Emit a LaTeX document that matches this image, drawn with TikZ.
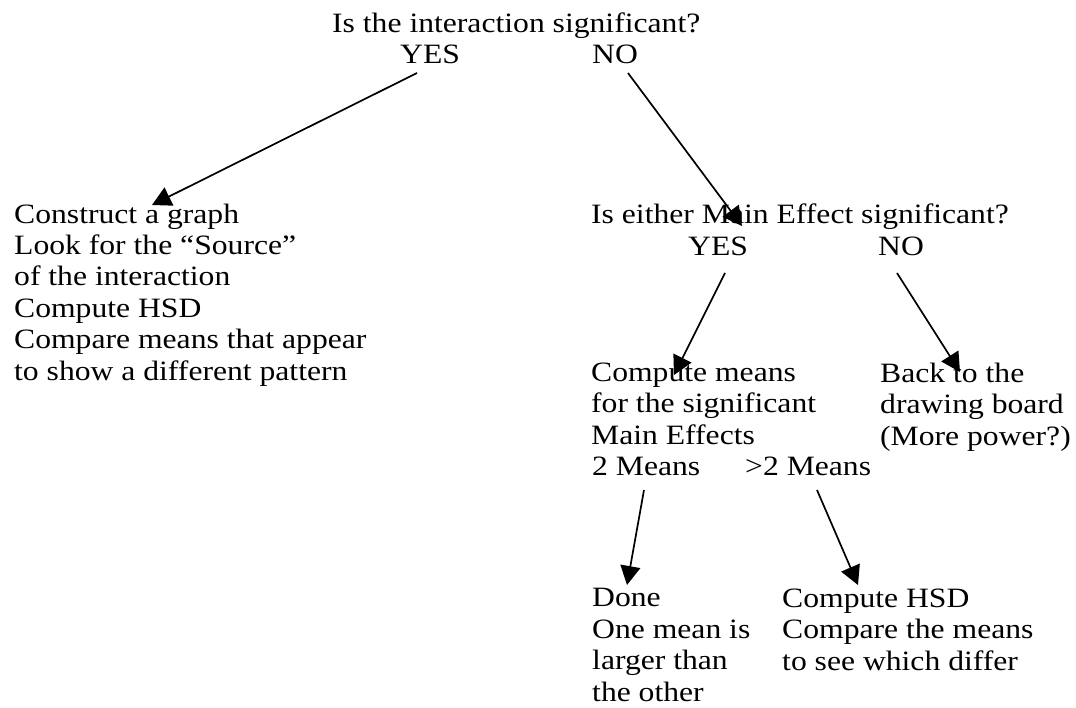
\documentclass[tikz,border=0pt]{standalone}
\usepackage{fontspec}
\setmainfont[FakeStretch=1.13]{Liberation Serif}
\usepackage{tikz}
\usetikzlibrary{arrows.meta, positioning}
\tikzstyle{question} = [inner sep=0pt, anchor=base west, align=left, font=\fontsize{28}{31.4}\selectfont]
\tikzstyle{answer} = [question]
\tikzstyle{action} = [question]
\tikzstyle{arrow} = [line width=1.7pt, -{Triangle[length=19pt, width=20pt]}]

\begin{document}
\begin{tikzpicture}[x=1pt, y=-1pt]
            \useasboundingbox (0,0) rectangle (1076,707);
            \node[question] (inter) at (332,32) {Is the interaction significant?};
            \node[answer] (yesa) at (400,63) {YES};
            \node[answer] (noa) at (592,63) {NO};
            \node[action] (graph) at (14,380) {Construct a graph\\Look for the “Source”\\of the interaction\\Compute HSD\\Compare means that appear\\to show a different pattern};
            \node[question] (main) at (591,223) {Is either Main Effect significant?};
            \node[answer] (yesb) at (688,255) {YES};
            \node[answer] (nob) at (878,255) {NO};
            \node[action] (means) at (591,444) {Compute means\\for the significant\\Main Effects};
            \node[action] (board) at (880,445) {Back to the\\drawing board\\(More power?)};
            \node[answer] (two) at (592,475) {2 Means};
            \node[answer] (more) at (745,475) {>2 Means};
            \node[action] (done) at (592,701) {Done\\One mean is\\larger than\\the other};
            \node[action] (hsd) at (782,670) {Compute HSD\\Compare the means\\to see which differ};

            \draw[arrow] ([shift={(17,10)}]yesa.base west) -- ([shift={(138,-175)}]graph.base west);
            \draw[arrow] ([shift={(36,10)}]noa.base west) -- ([shift={(151,3)}]main.base west);
            \draw[arrow] ([shift={(37,18)}]yesb.base west) -- ([shift={(83,-69)}]means.base west);
            \draw[arrow] ([shift={(19,18)}]nob.base west) -- ([shift={(80,-73)}]board.base west);
            \draw[arrow] ([shift={(52,15)}]two.base west) -- ([shift={(35,-116)}]done.base west);
            \draw[arrow] ([shift={(72,15)}]more.base west) -- ([shift={(76,-85)}]hsd.base west);
        \end{tikzpicture}
\end{document}
